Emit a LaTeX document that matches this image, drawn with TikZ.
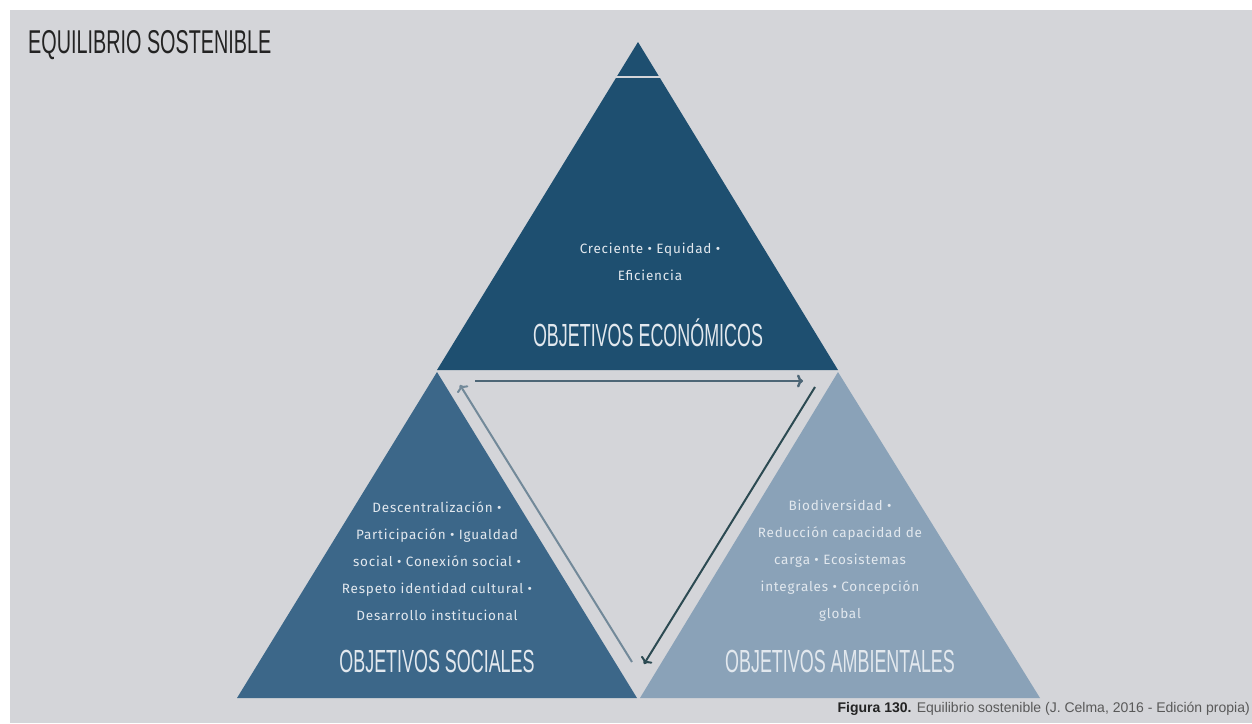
\documentclass[tikz,border=0pt]{standalone}
\usepackage{fontspec}
\setmainfont{Liberation Sans}
\newfontfamily\condfont[FakeStretch=0.56]{Liberation Sans}
\newfontfamily\titlefont[FakeStretch=0.60]{Liberation Sans}
\newfontfamily\bodyfont[LetterSpace=6]{Fira Sans}
\usetikzlibrary{arrows.meta}

\definecolor{bgGray}{HTML}{D4D5D9}
\definecolor{ecoBlue}{HTML}{1E4F70}
\definecolor{socBlue}{HTML}{3C6789}
\definecolor{ambBlue}{HTML}{8AA2B8}
\definecolor{arrowMid}{HTML}{4D6676}
\definecolor{arrowLight}{HTML}{728999}
\definecolor{arrowDark}{HTML}{2C4A52}
\definecolor{textLight}{HTML}{E2E8EE}
\definecolor{titleInk}{HTML}{232323}

\tikzset{
  headtext/.style={anchor=center, inner sep=0pt, text=textLight, font=\condfont\fontsize{32}{34}\selectfont},
  bodytext/.style={anchor=center, inner sep=0pt, align=center, text=textLight, font=\bodyfont\fontsize{13.5}{27}\selectfont},
  linkarrow/.style={line width=2pt, -{To[length=6pt, width=13pt]}},
}

\begin{document}
\begin{tikzpicture}[x=1pt, y=-1pt, line join=round]

  %% ════ fondo ════
  \fill[white] (0,0) rectangle (1252,723);
  \fill[bgGray] (10,10) rectangle (1252,723);

  %% ════ triángulos ════
  \fill[ecoBlue] (638,42) -- (838,370) -- (437,370) -- cycle;
  \fill[socBlue] (437,372) -- (637,698) -- (237,698) -- cycle;
  \fill[ambBlue] (838,372) -- (1040,698) -- (640,698) -- cycle;
  \draw[bgGray, line width=1.6pt] (616,77) -- (660,77);   % punta separada

  %% ════ extremos de las flechas ════
  \coordinate (ecoL) at (475,381);
  \coordinate (ecoR) at (803,381);
  \coordinate (socTop) at (460,385);
  \coordinate (socBot) at (632,662);
  \coordinate (ambTop) at (815,387);
  \coordinate (ambBot) at (644,664);

  \draw[linkarrow, arrowMid, line width=2.4pt] (ecoL) -- (ecoR);
  \draw[linkarrow, arrowLight] (socBot) -- (socTop);
  \draw[linkarrow, arrowDark] (ambTop) -- (ambBot);

  %% ════ textos ════
  \node[anchor=west, inner sep=0pt, text=titleInk, font=\titlefont\fontsize{33}{35}\selectfont] (titulo) at (28,45) {EQUILIBRIO SOSTENIBLE};

  \node[bodytext] (ecoBody) at (650,262) {Creciente • Equidad •\\Eficiencia};
  \node[headtext] (ecoHead) at (648,333) {OBJETIVOS ECONÓMICOS};

  \node[bodytext] (socBody) at (437,561) {Descentralización •\\Participación • Igualdad\\social • Conexión social •\\Respeto identidad cultural •\\Desarrollo institucional};
  \node[headtext] (socHead) at (437,661) {OBJETIVOS SOCIALES};

  \node[bodytext] (ambBody) at (840,561) {Biodiversidad •\\Reducción capacidad de\\carga • Ecosistemas\\integrales • Concepción\\global};
  \node[headtext] (ambHead) at (840,661) {OBJETIVOS AMBIENTALES};

  \node[anchor=east, inner sep=0pt, text=black!65, font=\fontsize{14}{16}\selectfont] (pie) at (1250,709) {\textcolor{titleInk}{\textbf{Figura 130.}} Equilibrio sostenible (J. Celma, 2016 - Edición propia)};

  \pgfresetboundingbox
  \path[use as bounding box] (0,0) rectangle (1252,723);
\end{tikzpicture}
\end{document}
